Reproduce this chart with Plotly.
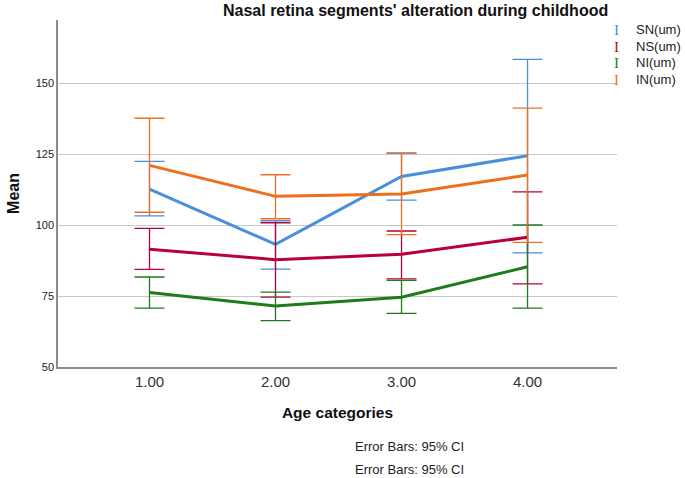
import plotly.graph_objects as go

age = [1, 2, 3, 4]
age_labels = ["1.00", "2.00", "3.00", "4.00"]

sn_mean = [112.6, 93.2, 117.1, 124.4]
sn_upper = [122.4, 101.5, 125.4, 158.3]
sn_lower = [103.2, 84.5, 108.8, 90.2]

ns_mean = [91.5, 87.8, 89.7, 95.7]
ns_upper = [98.8, 100.8, 97.9, 111.7]
ns_lower = [84.4, 74.6, 81.0, 79.3]

ni_mean = [76.2, 71.5, 74.6, 85.3]
ni_upper = [81.7, 76.4, 80.5, 100.0]
ni_lower = [70.7, 66.3, 68.9, 70.7]

in_mean = [121.0, 110.1, 110.9, 117.6]
in_upper = [137.6, 117.7, 125.2, 141.2]
in_lower = [104.5, 102.2, 96.6, 93.9]

series = [
    ("SN(um)", sn_mean, sn_upper, sn_lower, "#4A8FDC"),
    ("NS(um)", ns_mean, ns_upper, ns_lower, "#B8003C"),
    ("NI(um)", ni_mean, ni_upper, ni_lower, "#1E7B1E"),
    ("IN(um)", in_mean, in_upper, in_lower, "#EE6F1E"),
]

fig = go.Figure()
for name, m, up, lo, col in series:
    fig.add_trace(go.Scatter(
        x=age, y=m, mode="lines", name=name,
        line=dict(color=col, width=3),
        error_y=dict(type="data", symmetric=False,
                     array=[u - v for u, v in zip(up, m)],
                     arrayminus=[v - l for v, l in zip(m, lo)],
                     color=col, thickness=1.3, width=15),
        showlegend=False,
    ))

# plot area geometry (pixels) used only for placing text outside the axes
L, R, T, B = 55, 617, 20, 367
W, H = 685, 478

def px(x):
    return (x - L) / (R - L)

def py(y):
    return (B - y) / (B - T)

txt_font = "Liberation Sans, Arial"
ann = []
ann.append(dict(text="<b>Nasal retina segments' alteration during childhood</b>",
                x=px(414), y=py(11), xref="paper", yref="paper", xanchor="center", yanchor="middle",
                showarrow=False, font=dict(size=16, color="#111", family="Liberation Sans, Arial")))
for yy in (446, 469):
    ann.append(dict(text="Error Bars: 95% CI", x=px(408), y=py(yy), xref="paper", yref="paper",
                    xanchor="center", yanchor="middle",
                    showarrow=False, font=dict(size=13, color="#222", family=txt_font)))

leg_y = [30, 46.5, 63, 79.5]
for (name, m, up, lo, col), yy in zip(series, leg_y):
    ann.append(dict(text="I", x=px(616), y=py(yy), xref="paper", yref="paper",
                    xanchor="center", yanchor="middle",
                    showarrow=False, font=dict(size=15, color=col, family="Liberation Serif, serif")))
    ann.append(dict(text=name, x=px(634), y=py(yy), xref="paper", yref="paper",
                    xanchor="left", yanchor="middle", showarrow=False,
                    font=dict(size=13, color="#222", family=txt_font)))

fig.update_layout(
    width=W, height=H,
    margin=dict(l=L, r=W - R, t=T, b=H - B),
    paper_bgcolor="white", plot_bgcolor="white",
    font=dict(family="Liberation Sans, Arial", color="#222"),
    annotations=ann,
    xaxis=dict(range=[0.274, 4.71], tickvals=age, ticktext=age_labels,
               showgrid=False, zeroline=False, showline=True, linecolor="#8a8a8a", linewidth=1.5,
               ticks="", tickfont=dict(size=15, color="#333"),
               title=dict(text="<b>Age categories</b>", font=dict(size=15.5, color="#111"), standoff=18)),
    yaxis=dict(range=[50, 172.2], tickvals=[50, 75, 100, 125, 150],
               showgrid=True, gridcolor="#C8C8C8", gridwidth=1.2, zeroline=False,
               showline=True, linecolor="#8a8a8a", linewidth=1.5,
               ticks="", tickfont=dict(size=11, color="#222"),
               title=dict(text="<b>Mean</b>", font=dict(size=16, color="#111"), standoff=12)),
)

fig.write_html("out.html", config={"displayModeBar": False},
               post_script="document.body.style.margin='0';document.body.style.padding='0';")
